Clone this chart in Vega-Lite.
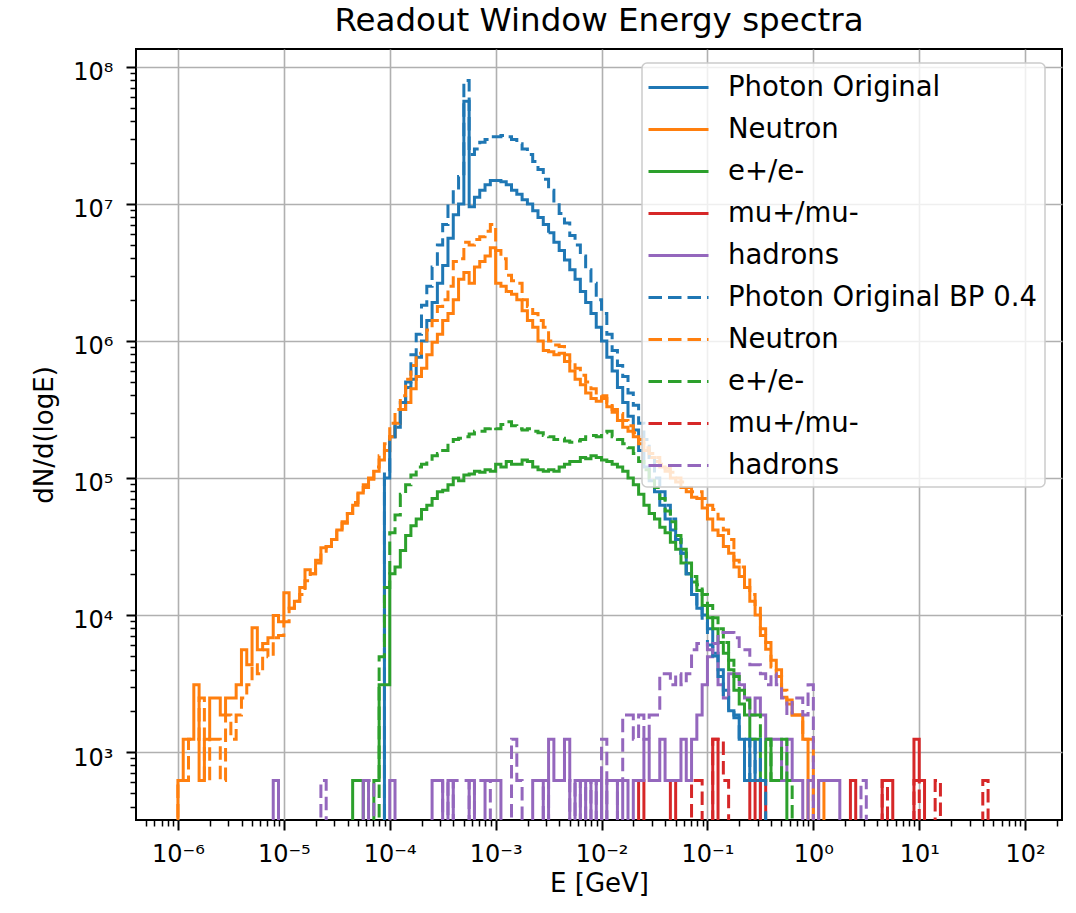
{
  "$schema": "https://vega.github.io/schema/vega-lite/v6.json",
  "width": 926,
  "height": 771,
  "autosize": {"type": "none"},
  "padding": {"left": 136, "top": 49, "right": 14, "bottom": 93},
  "background": "white",
  "title": {"text": "Readout Window Energy spectra", "font": "DejaVu Sans", "fontSize": 32.5, "fontWeight": "normal", "color": "#000", "anchor": "middle", "frame": "group", "baseline": "alphabetic", "offset": -14},
  "data": {"values": [
    {"s":"ph","x":7.943e-5,"y":1},{"s":"ph","x":8.913e-5,"y":1e5},{"s":"ph","x":1e-4,"y":2e5},{"s":"ph","x":1.122e-4,"y":2.34e5},{"s":"ph","x":1.259e-4,"y":3.16e5},{"s":"ph","x":1.413e-4,"y":4.57e5},{"s":"ph","x":1.585e-4,"y":5.25e5},{"s":"ph","x":1.778e-4,"y":7.59e5},{"s":"ph","x":1.995e-4,"y":1e6},{"s":"ph","x":2.239e-4,"y":1.41e6},{"s":"ph","x":2.512e-4,"y":1.91e6},{"s":"ph","x":2.818e-4,"y":2.63e6},{"s":"ph","x":3.162e-4,"y":3.55e6},{"s":"ph","x":3.548e-4,"y":5.62e6},{"s":"ph","x":3.981e-4,"y":8.32e6},{"s":"ph","x":4.467e-4,"y":1e7},{"s":"ph","x":5.012e-4,"y":5.62e7},{"s":"ph","x":5.623e-4,"y":9.55e6},{"s":"ph","x":6.31e-4,"y":1.12e7},{"s":"ph","x":7.079e-4,"y":1.26e7},{"s":"ph","x":7.943e-4,"y":1.38e7},{"s":"ph","x":8.913e-4,"y":1.48e7},{"s":"ph","x":1e-3,"y":1.48e7},{"s":"ph","x":1.122e-3,"y":1.45e7},{"s":"ph","x":1.259e-3,"y":1.38e7},{"s":"ph","x":1.413e-3,"y":1.26e7},{"s":"ph","x":1.585e-3,"y":1.175e7},{"s":"ph","x":1.778e-3,"y":1.07e7},{"s":"ph","x":1.995e-3,"y":1e7},{"s":"ph","x":2.239e-3,"y":8.91e6},{"s":"ph","x":2.512e-3,"y":7.94e6},{"s":"ph","x":2.818e-3,"y":7.08e6},{"s":"ph","x":3.162e-3,"y":6.17e6},{"s":"ph","x":3.548e-3,"y":5.25e6},{"s":"ph","x":3.981e-3,"y":4.57e6},{"s":"ph","x":4.467e-3,"y":3.89e6},{"s":"ph","x":5.012e-3,"y":3.31e6},{"s":"ph","x":5.623e-3,"y":2.82e6},{"s":"ph","x":6.31e-3,"y":2.29e6},{"s":"ph","x":7.079e-3,"y":1.91e6},{"s":"ph","x":7.943e-3,"y":1.585e6},{"s":"ph","x":8.913e-3,"y":1.26e6},{"s":"ph","x":1e-2,"y":1e6},{"s":"ph","x":1.122e-2,"y":7.59e5},{"s":"ph","x":1.259e-2,"y":6.03e5},{"s":"ph","x":1.413e-2,"y":4.57e5},{"s":"ph","x":1.585e-2,"y":3.55e5},{"s":"ph","x":1.778e-2,"y":2.82e5},{"s":"ph","x":1.995e-2,"y":2.24e5},{"s":"ph","x":2.239e-2,"y":1.585e5},{"s":"ph","x":2.512e-2,"y":1.2e5},{"s":"ph","x":2.818e-2,"y":9.55e4},{"s":"ph","x":3.162e-2,"y":7.94e4},{"s":"ph","x":3.548e-2,"y":6.31e4},{"s":"ph","x":3.981e-2,"y":5.01e4},{"s":"ph","x":4.467e-2,"y":4.17e4},{"s":"ph","x":5.012e-2,"y":3.55e4},{"s":"ph","x":5.623e-2,"y":2.82e4},{"s":"ph","x":6.31e-2,"y":2e4},{"s":"ph","x":7.079e-2,"y":1.41e4},{"s":"ph","x":7.943e-2,"y":1.12e4},{"s":"ph","x":8.913e-2,"y":1e4},{"s":"ph","x":0.1,"y":7940},{"s":"ph","x":0.1122,"y":5250},{"s":"ph","x":0.1259,"y":3980},{"s":"ph","x":0.1413,"y":2820},{"s":"ph","x":0.1585,"y":2000},{"s":"ph","x":0.1778,"y":1780},{"s":"ph","x":0.1995,"y":1240},{"s":"ph","x":0.2239,"y":620},{"s":"ph","x":0.2512,"y":1240},{"s":"ph","x":0.2818,"y":620},{"s":"ph","x":0.3162,"y":1},

    {"s":"ne","x":8.913e-7,"y":1},{"s":"ne","x":1e-6,"y":620},{"s":"ne","x":1.122e-6,"y":1240},{"s":"ne","x":1.259e-6,"y":1240},{"s":"ne","x":1.413e-6,"y":3100},{"s":"ne","x":1.585e-6,"y":620},{"s":"ne","x":1.778e-6,"y":1240},{"s":"ne","x":1.995e-6,"y":2480},{"s":"ne","x":2.239e-6,"y":2480},{"s":"ne","x":2.512e-6,"y":1860},{"s":"ne","x":2.818e-6,"y":2480},{"s":"ne","x":3.162e-6,"y":2480},{"s":"ne","x":3.548e-6,"y":3100},{"s":"ne","x":3.981e-6,"y":5580},{"s":"ne","x":4.467e-6,"y":4340},{"s":"ne","x":5.012e-6,"y":8060},{"s":"ne","x":5.623e-6,"y":5580},{"s":"ne","x":6.31e-6,"y":6200},{"s":"ne","x":7.079e-6,"y":6820},{"s":"ne","x":7.943e-6,"y":9920},{"s":"ne","x":8.913e-6,"y":8910},{"s":"ne","x":1e-5,"y":1.45e4},{"s":"ne","x":1.122e-5,"y":1.12e4},{"s":"ne","x":1.259e-5,"y":1.26e4},{"s":"ne","x":1.413e-5,"y":1.585e4},{"s":"ne","x":1.585e-5,"y":2.14e4},{"s":"ne","x":1.778e-5,"y":2e4},{"s":"ne","x":1.995e-5,"y":2.51e4},{"s":"ne","x":2.239e-5,"y":3.09e4},{"s":"ne","x":2.512e-5,"y":3.16e4},{"s":"ne","x":2.818e-5,"y":3.55e4},{"s":"ne","x":3.162e-5,"y":4.17e4},{"s":"ne","x":3.548e-5,"y":4.79e4},{"s":"ne","x":3.981e-5,"y":5.5e4},{"s":"ne","x":4.467e-5,"y":6.31e4},{"s":"ne","x":5.012e-5,"y":7.76e4},{"s":"ne","x":5.623e-5,"y":8.51e4},{"s":"ne","x":6.31e-5,"y":9.77e4},{"s":"ne","x":7.079e-5,"y":1.12e5},{"s":"ne","x":7.943e-5,"y":1.35e5},{"s":"ne","x":8.913e-5,"y":1.585e5},{"s":"ne","x":1e-4,"y":2e5},{"s":"ne","x":1.122e-4,"y":2.51e5},{"s":"ne","x":1.259e-4,"y":3.16e5},{"s":"ne","x":1.413e-4,"y":3.55e5},{"s":"ne","x":1.585e-4,"y":4.47e5},{"s":"ne","x":1.778e-4,"y":5.5e5},{"s":"ne","x":1.995e-4,"y":6.31e5},{"s":"ne","x":2.239e-4,"y":7.94e5},{"s":"ne","x":2.512e-4,"y":9.77e5},{"s":"ne","x":2.818e-4,"y":1.12e6},{"s":"ne","x":3.162e-4,"y":1.41e6},{"s":"ne","x":3.548e-4,"y":1.585e6},{"s":"ne","x":3.981e-4,"y":2e6},{"s":"ne","x":4.467e-4,"y":2.82e6},{"s":"ne","x":5.012e-4,"y":3.16e6},{"s":"ne","x":5.623e-4,"y":2.63e6},{"s":"ne","x":6.31e-4,"y":3.47e6},{"s":"ne","x":7.079e-4,"y":3.8e6},{"s":"ne","x":7.943e-4,"y":4.17e6},{"s":"ne","x":8.913e-4,"y":4.79e6},{"s":"ne","x":1e-3,"y":2.63e6},{"s":"ne","x":1.122e-3,"y":2.51e6},{"s":"ne","x":1.259e-3,"y":2.29e6},{"s":"ne","x":1.413e-3,"y":2.19e6},{"s":"ne","x":1.585e-3,"y":2e6},{"s":"ne","x":1.778e-3,"y":1.66e6},{"s":"ne","x":1.995e-3,"y":1.41e6},{"s":"ne","x":2.239e-3,"y":1.26e6},{"s":"ne","x":2.512e-3,"y":1e6},{"s":"ne","x":2.818e-3,"y":8.51e5},{"s":"ne","x":3.162e-3,"y":8.32e5},{"s":"ne","x":3.548e-3,"y":7.94e5},{"s":"ne","x":3.981e-3,"y":8.13e5},{"s":"ne","x":4.467e-3,"y":7.08e5},{"s":"ne","x":5.012e-3,"y":6.03e5},{"s":"ne","x":5.623e-3,"y":5.25e5},{"s":"ne","x":6.31e-3,"y":4.79e5},{"s":"ne","x":7.079e-3,"y":4.17e5},{"s":"ne","x":7.943e-3,"y":3.8e5},{"s":"ne","x":8.913e-3,"y":3.63e5},{"s":"ne","x":1e-2,"y":3.8e5},{"s":"ne","x":1.122e-2,"y":3.31e5},{"s":"ne","x":1.259e-2,"y":3.02e5},{"s":"ne","x":1.413e-2,"y":2.63e5},{"s":"ne","x":1.585e-2,"y":2.34e5},{"s":"ne","x":1.778e-2,"y":2.19e5},{"s":"ne","x":1.995e-2,"y":2e5},{"s":"ne","x":2.239e-2,"y":1.78e5},{"s":"ne","x":2.512e-2,"y":1.585e5},{"s":"ne","x":2.818e-2,"y":1.41e5},{"s":"ne","x":3.162e-2,"y":1.32e5},{"s":"ne","x":3.548e-2,"y":1.2e5},{"s":"ne","x":3.981e-2,"y":1.12e5},{"s":"ne","x":4.467e-2,"y":1e5},{"s":"ne","x":5.012e-2,"y":9.33e4},{"s":"ne","x":5.623e-2,"y":8.51e4},{"s":"ne","x":6.31e-2,"y":7.94e4},{"s":"ne","x":7.079e-2,"y":7.24e4},{"s":"ne","x":7.943e-2,"y":7.08e4},{"s":"ne","x":8.913e-2,"y":6.03e4},{"s":"ne","x":0.1,"y":5.01e4},{"s":"ne","x":0.1122,"y":4.17e4},{"s":"ne","x":0.1259,"y":3.8e4},{"s":"ne","x":0.1413,"y":3.16e4},{"s":"ne","x":0.1585,"y":2.82e4},{"s":"ne","x":0.1778,"y":2.24e4},{"s":"ne","x":0.1995,"y":1.91e4},{"s":"ne","x":0.2239,"y":1.585e4},{"s":"ne","x":0.2512,"y":1.26e4},{"s":"ne","x":0.2818,"y":1e4},{"s":"ne","x":0.3162,"y":7080},{"s":"ne","x":0.3548,"y":6310},{"s":"ne","x":0.3981,"y":4680},{"s":"ne","x":0.4467,"y":3980},{"s":"ne","x":0.5012,"y":2510},{"s":"ne","x":0.5623,"y":2240},{"s":"ne","x":0.631,"y":1860},{"s":"ne","x":0.7079,"y":1860},{"s":"ne","x":0.7943,"y":1240},{"s":"ne","x":0.8913,"y":1},{"s":"ne","x":1.122,"y":620},{"s":"ne","x":1.259,"y":1},

    {"s":"el","x":3.981e-5,"y":1},{"s":"el","x":4.467e-5,"y":620},{"s":"el","x":5.012e-5,"y":620},{"s":"el","x":5.623e-5,"y":1},{"s":"el","x":7.079e-5,"y":620},{"s":"el","x":7.943e-5,"y":3100},{"s":"el","x":8.913e-5,"y":3100},{"s":"el","x":1e-4,"y":2e4},{"s":"el","x":1.122e-4,"y":2.24e4},{"s":"el","x":1.259e-4,"y":2.95e4},{"s":"el","x":1.413e-4,"y":3.8e4},{"s":"el","x":1.585e-4,"y":4.47e4},{"s":"el","x":1.778e-4,"y":5.01e4},{"s":"el","x":1.995e-4,"y":5.89e4},{"s":"el","x":2.239e-4,"y":6.31e4},{"s":"el","x":2.512e-4,"y":7.08e4},{"s":"el","x":2.818e-4,"y":7.94e4},{"s":"el","x":3.162e-4,"y":8.13e4},{"s":"el","x":3.548e-4,"y":8.91e4},{"s":"el","x":3.981e-4,"y":1e5},{"s":"el","x":4.467e-4,"y":9.55e4},{"s":"el","x":5.012e-4,"y":1.05e5},{"s":"el","x":5.623e-4,"y":1.07e5},{"s":"el","x":6.31e-4,"y":1.12e5},{"s":"el","x":7.079e-4,"y":1.1e5},{"s":"el","x":7.943e-4,"y":1.15e5},{"s":"el","x":8.913e-4,"y":1.12e5},{"s":"el","x":1e-3,"y":1.26e5},{"s":"el","x":1.122e-3,"y":1.2e5},{"s":"el","x":1.259e-3,"y":1.32e5},{"s":"el","x":1.413e-3,"y":1.26e5},{"s":"el","x":1.585e-3,"y":1.26e5},{"s":"el","x":1.778e-3,"y":1.35e5},{"s":"el","x":1.995e-3,"y":1.32e5},{"s":"el","x":2.239e-3,"y":1.2e5},{"s":"el","x":2.512e-3,"y":1.15e5},{"s":"el","x":2.818e-3,"y":1.12e5},{"s":"el","x":3.162e-3,"y":1.15e5},{"s":"el","x":3.548e-3,"y":1.12e5},{"s":"el","x":3.981e-3,"y":1.2e5},{"s":"el","x":4.467e-3,"y":1.26e5},{"s":"el","x":5.012e-3,"y":1.32e5},{"s":"el","x":5.623e-3,"y":1.32e5},{"s":"el","x":6.31e-3,"y":1.41e5},{"s":"el","x":7.079e-3,"y":1.38e5},{"s":"el","x":7.943e-3,"y":1.45e5},{"s":"el","x":8.913e-3,"y":1.41e5},{"s":"el","x":1e-2,"y":1.35e5},{"s":"el","x":1.122e-2,"y":1.32e5},{"s":"el","x":1.259e-2,"y":1.26e5},{"s":"el","x":1.413e-2,"y":1.2e5},{"s":"el","x":1.585e-2,"y":1.12e5},{"s":"el","x":1.778e-2,"y":1e5},{"s":"el","x":1.995e-2,"y":8.91e4},{"s":"el","x":2.239e-2,"y":7.59e4},{"s":"el","x":2.512e-2,"y":6.31e4},{"s":"el","x":2.818e-2,"y":5.5e4},{"s":"el","x":3.162e-2,"y":5.01e4},{"s":"el","x":3.548e-2,"y":4.37e4},{"s":"el","x":3.981e-2,"y":3.98e4},{"s":"el","x":4.467e-2,"y":3.39e4},{"s":"el","x":5.012e-2,"y":3.02e4},{"s":"el","x":5.623e-2,"y":2.4e4},{"s":"el","x":6.31e-2,"y":2e4},{"s":"el","x":7.079e-2,"y":1.74e4},{"s":"el","x":7.943e-2,"y":1.51e4},{"s":"el","x":8.913e-2,"y":1.175e4},{"s":"el","x":0.1,"y":9550},{"s":"el","x":0.1122,"y":7940},{"s":"el","x":0.1259,"y":6310},{"s":"el","x":0.1413,"y":5250},{"s":"el","x":0.1585,"y":3980},{"s":"el","x":0.1778,"y":2820},{"s":"el","x":0.1995,"y":2240},{"s":"el","x":0.2239,"y":1860},{"s":"el","x":0.2512,"y":1240},{"s":"el","x":0.2818,"y":1240},{"s":"el","x":0.3162,"y":620},{"s":"el","x":0.3548,"y":1240},{"s":"el","x":0.3981,"y":620},{"s":"el","x":0.4467,"y":620},{"s":"el","x":0.5012,"y":620},{"s":"el","x":0.5623,"y":1},

    {"s":"mu","x":1.995e-2,"y":1},{"s":"mu","x":2.239e-2,"y":620},{"s":"mu","x":2.512e-2,"y":1},{"s":"mu","x":4.467e-2,"y":620},{"s":"mu","x":5.012e-2,"y":1},{"s":"mu","x":0.1122,"y":1240},{"s":"mu","x":0.1259,"y":1},{"s":"mu","x":0.2512,"y":620},{"s":"mu","x":0.2818,"y":1},{"s":"mu","x":0.3162,"y":620},{"s":"mu","x":0.3548,"y":1},{"s":"mu","x":2.239,"y":620},{"s":"mu","x":2.512,"y":1},{"s":"mu","x":4.467,"y":620},{"s":"mu","x":5.012,"y":620},{"s":"mu","x":5.623,"y":1},{"s":"mu","x":8.913,"y":1240},{"s":"mu","x":10,"y":620},{"s":"mu","x":11.22,"y":1},

    {"s":"ha","x":7.079e-6,"y":1},{"s":"ha","x":7.943e-6,"y":620},{"s":"ha","x":8.913e-6,"y":1},{"s":"ha","x":5.623e-5,"y":620},{"s":"ha","x":6.31e-5,"y":1},{"s":"ha","x":1e-4,"y":620},{"s":"ha","x":1.122e-4,"y":1},{"s":"ha","x":2.512e-4,"y":620},{"s":"ha","x":2.818e-4,"y":620},{"s":"ha","x":3.162e-4,"y":1},{"s":"ha","x":3.548e-4,"y":620},{"s":"ha","x":3.981e-4,"y":1},{"s":"ha","x":5.623e-4,"y":620},{"s":"ha","x":6.31e-4,"y":1},{"s":"ha","x":7.943e-4,"y":620},{"s":"ha","x":8.913e-4,"y":620},{"s":"ha","x":1e-3,"y":620},{"s":"ha","x":1.122e-3,"y":1},{"s":"ha","x":2.239e-3,"y":620},{"s":"ha","x":2.512e-3,"y":620},{"s":"ha","x":2.818e-3,"y":1},{"s":"ha","x":3.162e-3,"y":1240},{"s":"ha","x":3.548e-3,"y":620},{"s":"ha","x":3.981e-3,"y":620},{"s":"ha","x":4.467e-3,"y":1240},{"s":"ha","x":5.012e-3,"y":1},{"s":"ha","x":5.623e-3,"y":620},{"s":"ha","x":6.31e-3,"y":1},{"s":"ha","x":7.079e-3,"y":620},{"s":"ha","x":7.943e-3,"y":1},{"s":"ha","x":8.913e-3,"y":620},{"s":"ha","x":1e-2,"y":1},{"s":"ha","x":1.122e-2,"y":620},{"s":"ha","x":1.259e-2,"y":620},{"s":"ha","x":1.413e-2,"y":1},{"s":"ha","x":1.585e-2,"y":620},{"s":"ha","x":1.778e-2,"y":1},{"s":"ha","x":1.995e-2,"y":620},{"s":"ha","x":2.239e-2,"y":620},{"s":"ha","x":2.512e-2,"y":1240},{"s":"ha","x":2.818e-2,"y":620},{"s":"ha","x":3.162e-2,"y":620},{"s":"ha","x":3.548e-2,"y":1240},{"s":"ha","x":3.981e-2,"y":620},{"s":"ha","x":4.467e-2,"y":620},{"s":"ha","x":5.012e-2,"y":620},{"s":"ha","x":5.623e-2,"y":1240},{"s":"ha","x":6.31e-2,"y":620},{"s":"ha","x":7.079e-2,"y":1240},{"s":"ha","x":7.943e-2,"y":1860},{"s":"ha","x":8.913e-2,"y":3100},{"s":"ha","x":0.1,"y":4960},{"s":"ha","x":0.1122,"y":6200},{"s":"ha","x":0.1259,"y":3100},{"s":"ha","x":0.1413,"y":2480},{"s":"ha","x":0.1585,"y":3720},{"s":"ha","x":0.1778,"y":3720},{"s":"ha","x":0.1995,"y":3100},{"s":"ha","x":0.2239,"y":2480},{"s":"ha","x":0.2512,"y":1860},{"s":"ha","x":0.2818,"y":2480},{"s":"ha","x":0.3162,"y":1860},{"s":"ha","x":0.3548,"y":1240},{"s":"ha","x":0.3981,"y":1240},{"s":"ha","x":0.4467,"y":1240},{"s":"ha","x":0.5012,"y":620},{"s":"ha","x":0.5623,"y":1240},{"s":"ha","x":0.631,"y":620},{"s":"ha","x":0.7079,"y":620},{"s":"ha","x":0.7943,"y":1},{"s":"ha","x":0.8913,"y":620},{"s":"ha","x":1,"y":1},{"s":"ha","x":1.122,"y":620},{"s":"ha","x":1.259,"y":620},{"s":"ha","x":1.413,"y":620},{"s":"ha","x":1.585,"y":620},{"s":"ha","x":1.778,"y":1},

    {"s":"ph4","x":7.943e-5,"y":1},{"s":"ph4","x":8.913e-5,"y":1.12e5},{"s":"ph4","x":1e-4,"y":2e5},{"s":"ph4","x":1.122e-4,"y":2.51e5},{"s":"ph4","x":1.259e-4,"y":3.55e5},{"s":"ph4","x":1.413e-4,"y":5.01e5},{"s":"ph4","x":1.585e-4,"y":7.94e5},{"s":"ph4","x":1.778e-4,"y":1.12e6},{"s":"ph4","x":1.995e-4,"y":1.82e6},{"s":"ph4","x":2.239e-4,"y":2.51e6},{"s":"ph4","x":2.512e-4,"y":3.47e6},{"s":"ph4","x":2.818e-4,"y":5.01e6},{"s":"ph4","x":3.162e-4,"y":7.08e6},{"s":"ph4","x":3.548e-4,"y":1e7},{"s":"ph4","x":3.981e-4,"y":1.26e7},{"s":"ph4","x":4.467e-4,"y":1.585e7},{"s":"ph4","x":5.012e-4,"y":7.94e7},{"s":"ph4","x":5.623e-4,"y":2.29e7},{"s":"ph4","x":6.31e-4,"y":2.51e7},{"s":"ph4","x":7.079e-4,"y":2.82e7},{"s":"ph4","x":7.943e-4,"y":2.95e7},{"s":"ph4","x":8.913e-4,"y":3.09e7},{"s":"ph4","x":1e-3,"y":3.09e7},{"s":"ph4","x":1.122e-3,"y":3.16e7},{"s":"ph4","x":1.259e-3,"y":3.09e7},{"s":"ph4","x":1.413e-3,"y":2.95e7},{"s":"ph4","x":1.585e-3,"y":2.75e7},{"s":"ph4","x":1.778e-3,"y":2.51e7},{"s":"ph4","x":1.995e-3,"y":2.29e7},{"s":"ph4","x":2.239e-3,"y":2.04e7},{"s":"ph4","x":2.512e-3,"y":1.78e7},{"s":"ph4","x":2.818e-3,"y":1.51e7},{"s":"ph4","x":3.162e-3,"y":1.26e7},{"s":"ph4","x":3.548e-3,"y":1.05e7},{"s":"ph4","x":3.981e-3,"y":8.51e6},{"s":"ph4","x":4.467e-3,"y":7.24e6},{"s":"ph4","x":5.012e-3,"y":5.89e6},{"s":"ph4","x":5.623e-3,"y":5.01e6},{"s":"ph4","x":6.31e-3,"y":4.17e6},{"s":"ph4","x":7.079e-3,"y":3.31e6},{"s":"ph4","x":7.943e-3,"y":2.63e6},{"s":"ph4","x":8.913e-3,"y":2e6},{"s":"ph4","x":1e-2,"y":1.585e6},{"s":"ph4","x":1.122e-2,"y":1.12e6},{"s":"ph4","x":1.259e-2,"y":8.51e5},{"s":"ph4","x":1.413e-2,"y":6.61e5},{"s":"ph4","x":1.585e-2,"y":5.5e5},{"s":"ph4","x":1.778e-2,"y":4.17e5},{"s":"ph4","x":1.995e-2,"y":3.39e5},{"s":"ph4","x":2.239e-2,"y":2.51e5},{"s":"ph4","x":2.512e-2,"y":1.91e5},{"s":"ph4","x":2.818e-2,"y":1.41e5},{"s":"ph4","x":3.162e-2,"y":1e5},{"s":"ph4","x":3.548e-2,"y":7.94e4},{"s":"ph4","x":3.981e-2,"y":6.31e4},{"s":"ph4","x":4.467e-2,"y":5.01e4},{"s":"ph4","x":5.012e-2,"y":3.55e4},{"s":"ph4","x":5.623e-2,"y":2.82e4},{"s":"ph4","x":6.31e-2,"y":2e4},{"s":"ph4","x":7.079e-2,"y":1.41e4},{"s":"ph4","x":7.943e-2,"y":1.12e4},{"s":"ph4","x":8.913e-2,"y":8910},{"s":"ph4","x":0.1,"y":6030},{"s":"ph4","x":0.1122,"y":5010},{"s":"ph4","x":0.1259,"y":3550},{"s":"ph4","x":0.1413,"y":2510},{"s":"ph4","x":0.1585,"y":2000},{"s":"ph4","x":0.1778,"y":1860},{"s":"ph4","x":0.1995,"y":1240},{"s":"ph4","x":0.2239,"y":1240},{"s":"ph4","x":0.2512,"y":620},{"s":"ph4","x":0.2818,"y":1240},{"s":"ph4","x":0.3162,"y":620},{"s":"ph4","x":0.3548,"y":1},

    {"s":"ne4","x":8.913e-7,"y":1},{"s":"ne4","x":1e-6,"y":620},{"s":"ne4","x":1.122e-6,"y":620},{"s":"ne4","x":1.259e-6,"y":1240},{"s":"ne4","x":1.413e-6,"y":1240},{"s":"ne4","x":1.585e-6,"y":2480},{"s":"ne4","x":1.778e-6,"y":620},{"s":"ne4","x":1.995e-6,"y":1240},{"s":"ne4","x":2.239e-6,"y":1240},{"s":"ne4","x":2.512e-6,"y":620},{"s":"ne4","x":2.818e-6,"y":1860},{"s":"ne4","x":3.162e-6,"y":1240},{"s":"ne4","x":3.548e-6,"y":1860},{"s":"ne4","x":3.981e-6,"y":2480},{"s":"ne4","x":4.467e-6,"y":3100},{"s":"ne4","x":5.012e-6,"y":4340},{"s":"ne4","x":5.623e-6,"y":3720},{"s":"ne4","x":6.31e-6,"y":5580},{"s":"ne4","x":7.079e-6,"y":4960},{"s":"ne4","x":7.943e-6,"y":6820},{"s":"ne4","x":8.913e-6,"y":7080},{"s":"ne4","x":1e-5,"y":8910},{"s":"ne4","x":1.122e-5,"y":1.12e4},{"s":"ne4","x":1.259e-5,"y":1.26e4},{"s":"ne4","x":1.413e-5,"y":1.41e4},{"s":"ne4","x":1.585e-5,"y":1.78e4},{"s":"ne4","x":1.778e-5,"y":2e4},{"s":"ne4","x":1.995e-5,"y":2.4e4},{"s":"ne4","x":2.239e-5,"y":2.82e4},{"s":"ne4","x":2.512e-5,"y":3.16e4},{"s":"ne4","x":2.818e-5,"y":3.55e4},{"s":"ne4","x":3.162e-5,"y":4.17e4},{"s":"ne4","x":3.548e-5,"y":4.68e4},{"s":"ne4","x":3.981e-5,"y":5.5e4},{"s":"ne4","x":4.467e-5,"y":6.61e4},{"s":"ne4","x":5.012e-5,"y":7.59e4},{"s":"ne4","x":5.623e-5,"y":8.91e4},{"s":"ne4","x":6.31e-5,"y":1e5},{"s":"ne4","x":7.079e-5,"y":1.2e5},{"s":"ne4","x":7.943e-5,"y":1.45e5},{"s":"ne4","x":8.913e-5,"y":1.78e5},{"s":"ne4","x":1e-4,"y":2.51e5},{"s":"ne4","x":1.122e-4,"y":3.16e5},{"s":"ne4","x":1.259e-4,"y":3.98e5},{"s":"ne4","x":1.413e-4,"y":5.25e5},{"s":"ne4","x":1.585e-4,"y":6.61e5},{"s":"ne4","x":1.778e-4,"y":8.13e5},{"s":"ne4","x":1.995e-4,"y":9.55e5},{"s":"ne4","x":2.239e-4,"y":1.2e6},{"s":"ne4","x":2.512e-4,"y":1.41e6},{"s":"ne4","x":2.818e-4,"y":1.78e6},{"s":"ne4","x":3.162e-4,"y":2e6},{"s":"ne4","x":3.548e-4,"y":2.51e6},{"s":"ne4","x":3.981e-4,"y":3.8e6},{"s":"ne4","x":4.467e-4,"y":3.98e6},{"s":"ne4","x":5.012e-4,"y":5.25e6},{"s":"ne4","x":5.623e-4,"y":5.01e6},{"s":"ne4","x":6.31e-4,"y":5.5e6},{"s":"ne4","x":7.079e-4,"y":5.75e6},{"s":"ne4","x":7.943e-4,"y":6.31e6},{"s":"ne4","x":8.913e-4,"y":7.08e6},{"s":"ne4","x":1e-3,"y":4.57e6},{"s":"ne4","x":1.122e-3,"y":3.98e6},{"s":"ne4","x":1.259e-3,"y":3.02e6},{"s":"ne4","x":1.413e-3,"y":2.75e6},{"s":"ne4","x":1.585e-3,"y":2.63e6},{"s":"ne4","x":1.778e-3,"y":2e6},{"s":"ne4","x":1.995e-3,"y":1.78e6},{"s":"ne4","x":2.239e-3,"y":1.585e6},{"s":"ne4","x":2.512e-3,"y":1.41e6},{"s":"ne4","x":2.818e-3,"y":1.26e6},{"s":"ne4","x":3.162e-3,"y":1e6},{"s":"ne4","x":3.548e-3,"y":9.33e5},{"s":"ne4","x":3.981e-3,"y":9.12e5},{"s":"ne4","x":4.467e-3,"y":7.94e5},{"s":"ne4","x":5.012e-3,"y":6.92e5},{"s":"ne4","x":5.623e-3,"y":6.31e5},{"s":"ne4","x":6.31e-3,"y":5.62e5},{"s":"ne4","x":7.079e-3,"y":5.01e5},{"s":"ne4","x":7.943e-3,"y":4.47e5},{"s":"ne4","x":8.913e-3,"y":4.17e5},{"s":"ne4","x":1e-2,"y":3.98e5},{"s":"ne4","x":1.122e-2,"y":3.55e5},{"s":"ne4","x":1.259e-2,"y":3.16e5},{"s":"ne4","x":1.413e-2,"y":2.95e5},{"s":"ne4","x":1.585e-2,"y":2.63e5},{"s":"ne4","x":1.778e-2,"y":2.4e5},{"s":"ne4","x":1.995e-2,"y":2.14e5},{"s":"ne4","x":2.239e-2,"y":1.91e5},{"s":"ne4","x":2.512e-2,"y":1.66e5},{"s":"ne4","x":2.818e-2,"y":1.51e5},{"s":"ne4","x":3.162e-2,"y":1.41e5},{"s":"ne4","x":3.548e-2,"y":1.26e5},{"s":"ne4","x":3.981e-2,"y":1.175e5},{"s":"ne4","x":4.467e-2,"y":1.1e5},{"s":"ne4","x":5.012e-2,"y":1e5},{"s":"ne4","x":5.623e-2,"y":9.33e4},{"s":"ne4","x":6.31e-2,"y":8.51e4},{"s":"ne4","x":7.079e-2,"y":7.94e4},{"s":"ne4","x":7.943e-2,"y":7.94e4},{"s":"ne4","x":8.913e-2,"y":7.08e4},{"s":"ne4","x":0.1,"y":6.31e4},{"s":"ne4","x":0.1122,"y":5.89e4},{"s":"ne4","x":0.1259,"y":5.01e4},{"s":"ne4","x":0.1413,"y":4.17e4},{"s":"ne4","x":0.1585,"y":3.55e4},{"s":"ne4","x":0.1778,"y":2.51e4},{"s":"ne4","x":0.1995,"y":2.24e4},{"s":"ne4","x":0.2239,"y":1.91e4},{"s":"ne4","x":0.2512,"y":1.41e4},{"s":"ne4","x":0.2818,"y":1.12e4},{"s":"ne4","x":0.3162,"y":7940},{"s":"ne4","x":0.3548,"y":5620},{"s":"ne4","x":0.3981,"y":4170},{"s":"ne4","x":0.4467,"y":3550},{"s":"ne4","x":0.5012,"y":2820},{"s":"ne4","x":0.5623,"y":2400},{"s":"ne4","x":0.631,"y":1860},{"s":"ne4","x":0.7079,"y":1860},{"s":"ne4","x":0.7943,"y":1240},{"s":"ne4","x":0.8913,"y":1240},{"s":"ne4","x":1,"y":1},

    {"s":"el4","x":7.079e-5,"y":1},{"s":"el4","x":7.943e-5,"y":4960},{"s":"el4","x":8.913e-5,"y":1.585e4},{"s":"el4","x":1e-4,"y":3.98e4},{"s":"el4","x":1.122e-4,"y":5.37e4},{"s":"el4","x":1.259e-4,"y":7.59e4},{"s":"el4","x":1.413e-4,"y":8.91e4},{"s":"el4","x":1.585e-4,"y":1.05e5},{"s":"el4","x":1.778e-4,"y":1.2e5},{"s":"el4","x":1.995e-4,"y":1.26e5},{"s":"el4","x":2.239e-4,"y":1.32e5},{"s":"el4","x":2.512e-4,"y":1.45e5},{"s":"el4","x":2.818e-4,"y":1.51e5},{"s":"el4","x":3.162e-4,"y":1.585e5},{"s":"el4","x":3.548e-4,"y":1.78e5},{"s":"el4","x":3.981e-4,"y":1.91e5},{"s":"el4","x":4.467e-4,"y":1.95e5},{"s":"el4","x":5.012e-4,"y":2e5},{"s":"el4","x":5.623e-4,"y":2.09e5},{"s":"el4","x":6.31e-4,"y":2.19e5},{"s":"el4","x":7.079e-4,"y":2.19e5},{"s":"el4","x":7.943e-4,"y":2.29e5},{"s":"el4","x":8.913e-4,"y":2.34e5},{"s":"el4","x":1e-3,"y":2.29e5},{"s":"el4","x":1.122e-3,"y":2.45e5},{"s":"el4","x":1.259e-3,"y":2.57e5},{"s":"el4","x":1.413e-3,"y":2.4e5},{"s":"el4","x":1.585e-3,"y":2.29e5},{"s":"el4","x":1.778e-3,"y":2.24e5},{"s":"el4","x":1.995e-3,"y":2.29e5},{"s":"el4","x":2.239e-3,"y":2.19e5},{"s":"el4","x":2.512e-3,"y":2.14e5},{"s":"el4","x":2.818e-3,"y":2.04e5},{"s":"el4","x":3.162e-3,"y":2e5},{"s":"el4","x":3.548e-3,"y":1.91e5},{"s":"el4","x":3.981e-3,"y":1.95e5},{"s":"el4","x":4.467e-3,"y":1.86e5},{"s":"el4","x":5.012e-3,"y":1.82e5},{"s":"el4","x":5.623e-3,"y":1.86e5},{"s":"el4","x":6.31e-3,"y":1.91e5},{"s":"el4","x":7.079e-3,"y":2e5},{"s":"el4","x":7.943e-3,"y":2.04e5},{"s":"el4","x":8.913e-3,"y":2e5},{"s":"el4","x":1e-2,"y":2.14e5},{"s":"el4","x":1.122e-2,"y":2.19e5},{"s":"el4","x":1.259e-2,"y":2e5},{"s":"el4","x":1.413e-2,"y":1.91e5},{"s":"el4","x":1.585e-2,"y":1.78e5},{"s":"el4","x":1.778e-2,"y":1.66e5},{"s":"el4","x":1.995e-2,"y":1.51e5},{"s":"el4","x":2.239e-2,"y":1.32e5},{"s":"el4","x":2.512e-2,"y":1.15e5},{"s":"el4","x":2.818e-2,"y":1e5},{"s":"el4","x":3.162e-2,"y":8.51e4},{"s":"el4","x":3.548e-2,"y":7.08e4},{"s":"el4","x":3.981e-2,"y":5.75e4},{"s":"el4","x":4.467e-2,"y":4.79e4},{"s":"el4","x":5.012e-2,"y":3.8e4},{"s":"el4","x":5.623e-2,"y":3.02e4},{"s":"el4","x":6.31e-2,"y":2.4e4},{"s":"el4","x":7.079e-2,"y":1.91e4},{"s":"el4","x":7.943e-2,"y":1.66e4},{"s":"el4","x":8.913e-2,"y":1.41e4},{"s":"el4","x":0.1,"y":1.175e4},{"s":"el4","x":0.1122,"y":9550},{"s":"el4","x":0.1259,"y":7940},{"s":"el4","x":0.1413,"y":6310},{"s":"el4","x":0.1585,"y":4680},{"s":"el4","x":0.1778,"y":3550},{"s":"el4","x":0.1995,"y":2820},{"s":"el4","x":0.2239,"y":2400},{"s":"el4","x":0.2512,"y":1860},{"s":"el4","x":0.2818,"y":1860},{"s":"el4","x":0.3162,"y":1240},{"s":"el4","x":0.3548,"y":1240},{"s":"el4","x":0.3981,"y":620},{"s":"el4","x":0.4467,"y":620},{"s":"el4","x":0.5012,"y":1240},{"s":"el4","x":0.5623,"y":620},{"s":"el4","x":0.631,"y":1},

    {"s":"mu4","x":6.31e-2,"y":1},{"s":"mu4","x":7.079e-2,"y":620},{"s":"mu4","x":7.943e-2,"y":620},{"s":"mu4","x":8.913e-2,"y":1},{"s":"mu4","x":0.1122,"y":1240},{"s":"mu4","x":0.1259,"y":1240},{"s":"mu4","x":0.1413,"y":620},{"s":"mu4","x":0.1585,"y":1},{"s":"mu4","x":4.467,"y":620},{"s":"mu4","x":5.012,"y":1},{"s":"mu4","x":8.913,"y":620},{"s":"mu4","x":10,"y":1},{"s":"mu4","x":14.13,"y":620},{"s":"mu4","x":15.85,"y":1},{"s":"mu4","x":39.81,"y":620},{"s":"mu4","x":44.67,"y":1},

    {"s":"ha4","x":1.995e-5,"y":1},{"s":"ha4","x":2.239e-5,"y":620},{"s":"ha4","x":2.512e-5,"y":1},{"s":"ha4","x":6.31e-5,"y":620},{"s":"ha4","x":7.079e-5,"y":1},{"s":"ha4","x":3.162e-4,"y":620},{"s":"ha4","x":3.548e-4,"y":1},{"s":"ha4","x":3.981e-4,"y":620},{"s":"ha4","x":4.467e-4,"y":620},{"s":"ha4","x":5.012e-4,"y":620},{"s":"ha4","x":5.623e-4,"y":1},{"s":"ha4","x":6.31e-4,"y":620},{"s":"ha4","x":7.079e-4,"y":620},{"s":"ha4","x":7.943e-4,"y":620},{"s":"ha4","x":8.913e-4,"y":1},{"s":"ha4","x":1.413e-3,"y":1240},{"s":"ha4","x":1.585e-3,"y":620},{"s":"ha4","x":1.778e-3,"y":1},{"s":"ha4","x":2.818e-3,"y":620},{"s":"ha4","x":3.162e-3,"y":1},{"s":"ha4","x":5.012e-3,"y":620},{"s":"ha4","x":5.623e-3,"y":1},{"s":"ha4","x":6.31e-3,"y":620},{"s":"ha4","x":7.079e-3,"y":1},{"s":"ha4","x":7.943e-3,"y":620},{"s":"ha4","x":8.913e-3,"y":1},{"s":"ha4","x":1e-2,"y":1240},{"s":"ha4","x":1.122e-2,"y":1},{"s":"ha4","x":1.413e-2,"y":620},{"s":"ha4","x":1.585e-2,"y":1860},{"s":"ha4","x":1.778e-2,"y":1860},{"s":"ha4","x":1.995e-2,"y":1240},{"s":"ha4","x":2.239e-2,"y":1860},{"s":"ha4","x":2.512e-2,"y":1240},{"s":"ha4","x":2.818e-2,"y":1860},{"s":"ha4","x":3.162e-2,"y":1860},{"s":"ha4","x":3.548e-2,"y":3720},{"s":"ha4","x":3.981e-2,"y":3720},{"s":"ha4","x":4.467e-2,"y":3100},{"s":"ha4","x":5.012e-2,"y":3720},{"s":"ha4","x":5.623e-2,"y":3100},{"s":"ha4","x":6.31e-2,"y":3720},{"s":"ha4","x":7.079e-2,"y":5580},{"s":"ha4","x":7.943e-2,"y":6200},{"s":"ha4","x":8.913e-2,"y":6200},{"s":"ha4","x":0.1,"y":5580},{"s":"ha4","x":0.1122,"y":6200},{"s":"ha4","x":0.1259,"y":7440},{"s":"ha4","x":0.1413,"y":7440},{"s":"ha4","x":0.1585,"y":7440},{"s":"ha4","x":0.1778,"y":6820},{"s":"ha4","x":0.1995,"y":5580},{"s":"ha4","x":0.2239,"y":5580},{"s":"ha4","x":0.2512,"y":4340},{"s":"ha4","x":0.2818,"y":4340},{"s":"ha4","x":0.3162,"y":3720},{"s":"ha4","x":0.3548,"y":3100},{"s":"ha4","x":0.3981,"y":3720},{"s":"ha4","x":0.4467,"y":3100},{"s":"ha4","x":0.5012,"y":2480},{"s":"ha4","x":0.5623,"y":1860},{"s":"ha4","x":0.631,"y":2480},{"s":"ha4","x":0.7079,"y":2480},{"s":"ha4","x":0.7943,"y":1860},{"s":"ha4","x":0.8913,"y":3100},{"s":"ha4","x":1,"y":1},{"s":"ha4","x":2.818,"y":620},{"s":"ha4","x":3.162,"y":1}
  ]},
  "mark": {"type": "line", "interpolate": "step-after", "strokeWidth": 3, "clip": true},
  "encoding": {
    "x": {
      "field": "x", "type": "quantitative",
      "scale": {"type": "log", "domain": [4.02e-7, 222.8], "nice": false},
      "axis": {
        "title": "E [GeV]",
        "values": [5e-7,6e-7,7e-7,8e-7,9e-7,1e-6,2e-6,3e-6,4e-6,5e-6,6e-6,7e-6,8e-6,9e-6,1e-5,2e-5,3e-5,4e-5,5e-5,6e-5,7e-5,8e-5,9e-5,1e-4,2e-4,3e-4,4e-4,5e-4,6e-4,7e-4,8e-4,9e-4,0.001,0.002,0.003,0.004,0.005,0.006,0.007,0.008,0.009,0.01,0.02,0.03,0.04,0.05,0.06,0.07,0.08,0.09,0.1,0.2,0.3,0.4,0.5,0.6,0.7,0.8,0.9,1,2,3,4,5,6,7,8,9,10,20,30,40,50,60,70,80,90,100,200],
        "labelExpr": "abs(log(datum.value)/LN10 - round(log(datum.value)/LN10)) < 1e-6 ? '10' + ['⁻⁶','⁻⁵','⁻⁴','⁻³','⁻²','⁻¹','⁰','¹','²','³','⁴','⁵','⁶','⁷','⁸'][round(log(datum.value)/LN10) + 6] : ''",
        "tickSize": {"condition": {"test": "abs(log(datum.value)/LN10 - round(log(datum.value)/LN10)) < 1e-6", "value": 10}, "value": 6},
        "tickWidth": {"condition": {"test": "abs(log(datum.value)/LN10 - round(log(datum.value)/LN10)) < 1e-6", "value": 2}, "value": 1.5},
        "gridOpacity": {"condition": {"test": "abs(log(datum.value)/LN10 - round(log(datum.value)/LN10)) < 1e-6", "value": 1}, "value": 0},
        "labelPadding": 12,
        "labelAngle": 0,
        "titlePadding": 4
      }
    },
    "y": {
      "field": "y", "type": "quantitative",
      "scale": {"type": "log", "domain": [319, 1.35e8], "nice": false},
      "axis": {
        "title": "dN/d(logE)",
        "values": [400,500,600,700,800,900,1000,2000,3000,4000,5000,6000,7000,8000,9000,1e4,2e4,3e4,4e4,5e4,6e4,7e4,8e4,9e4,1e5,2e5,3e5,4e5,5e5,6e5,7e5,8e5,9e5,1e6,2e6,3e6,4e6,5e6,6e6,7e6,8e6,9e6,1e7,2e7,3e7,4e7,5e7,6e7,7e7,8e7,9e7,1e8],
        "labelExpr": "abs(log(datum.value)/LN10 - round(log(datum.value)/LN10)) < 1e-6 ? '10' + ['⁻⁶','⁻⁵','⁻⁴','⁻³','⁻²','⁻¹','⁰','¹','²','³','⁴','⁵','⁶','⁷','⁸'][round(log(datum.value)/LN10) + 6] : ''",
        "tickSize": {"condition": {"test": "abs(log(datum.value)/LN10 - round(log(datum.value)/LN10)) < 1e-6", "value": 10}, "value": 6},
        "tickWidth": {"condition": {"test": "abs(log(datum.value)/LN10 - round(log(datum.value)/LN10)) < 1e-6", "value": 2}, "value": 1.5},
        "gridOpacity": {"condition": {"test": "abs(log(datum.value)/LN10 - round(log(datum.value)/LN10)) < 1e-6", "value": 1}, "value": 0},
        "labelPadding": 13,
        "labelOffset": 6,
        "titlePadding": 15
      }
    },
    "color": {
      "field": "s", "type": "nominal",
      "scale": {
        "domain": ["ph","ne","el","mu","ha","ph4","ne4","el4","mu4","ha4"],
        "range": ["#1f77b4","#ff7f0e","#2ca02c","#d62728","#9467bd","#1f77b4","#ff7f0e","#2ca02c","#d62728","#9467bd"]
      },
      "legend": {
        "title": null, "orient": "none", "legendX": 506, "legendY": 14,
        "labelExpr": "['Photon Original','Neutron','e+/e-','mu+/mu-','hadrons','Photon Original BP 0.4','Neutron','e+/e-','mu+/mu-','hadrons'][indexof(['ph','ne','el','mu','ha','ph4','ne4','el4','mu4','ha4'], datum.value)]",
        "symbolType": "M-2,0H2", "symbolSize": 900, "symbolStrokeWidth": 3, "symbolOffset": 12,
        "labelOffset": 33, "labelFontSize": 27.5, "labelFont": "DejaVu Sans", "labelColor": "#000", "labelLimit": 600,
        "padding": 8, "rowPadding": 12,
        "fillColor": "rgba(255,255,255,0.8)", "strokeColor": "#cccccc", "cornerRadius": 5
      }
    },
    "strokeDash": {
      "field": "s", "type": "nominal",
      "scale": {
        "domain": ["ph","ne","el","mu","ha","ph4","ne4","el4","mu4","ha4"],
        "range": [[1,0],[1,0],[1,0],[1,0],[1,0],[13.5,6],[13.5,6],[13.5,6],[13.5,6],[13.5,6]]
      },
      "legend": {
        "title": null, "orient": "none", "legendX": 506, "legendY": 14,
        "labelExpr": "['Photon Original','Neutron','e+/e-','mu+/mu-','hadrons','Photon Original BP 0.4','Neutron','e+/e-','mu+/mu-','hadrons'][indexof(['ph','ne','el','mu','ha','ph4','ne4','el4','mu4','ha4'], datum.value)]",
        "symbolType": "M-2,0H2", "symbolSize": 900, "symbolStrokeWidth": 3, "symbolOffset": 12,
        "labelOffset": 33, "labelFontSize": 27.5, "labelFont": "DejaVu Sans", "labelColor": "#000", "labelLimit": 600,
        "padding": 8, "rowPadding": 12,
        "fillColor": "rgba(255,255,255,0.8)", "strokeColor": "#cccccc", "cornerRadius": 5
      }
    }
  },
  "config": {
    "font": "DejaVu Sans",
    "view": {"stroke": "#000", "strokeWidth": 2},
    "axis": {
      "domain": false, "grid": true, "gridColor": "#b0b0b0", "gridWidth": 1.6,
      "tickColor": "#000", "labelColor": "#000", "labelFont": "DejaVu Sans", "labelFontSize": 24,
      "titleFont": "DejaVu Sans", "titleFontSize": 26, "titleFontWeight": "normal", "titleColor": "#000",
      "labelOverlap": false, "labelFlush": false, "labelBound": false
    },
    "legend": {"strokeWidth": 1.5}
  }
}
